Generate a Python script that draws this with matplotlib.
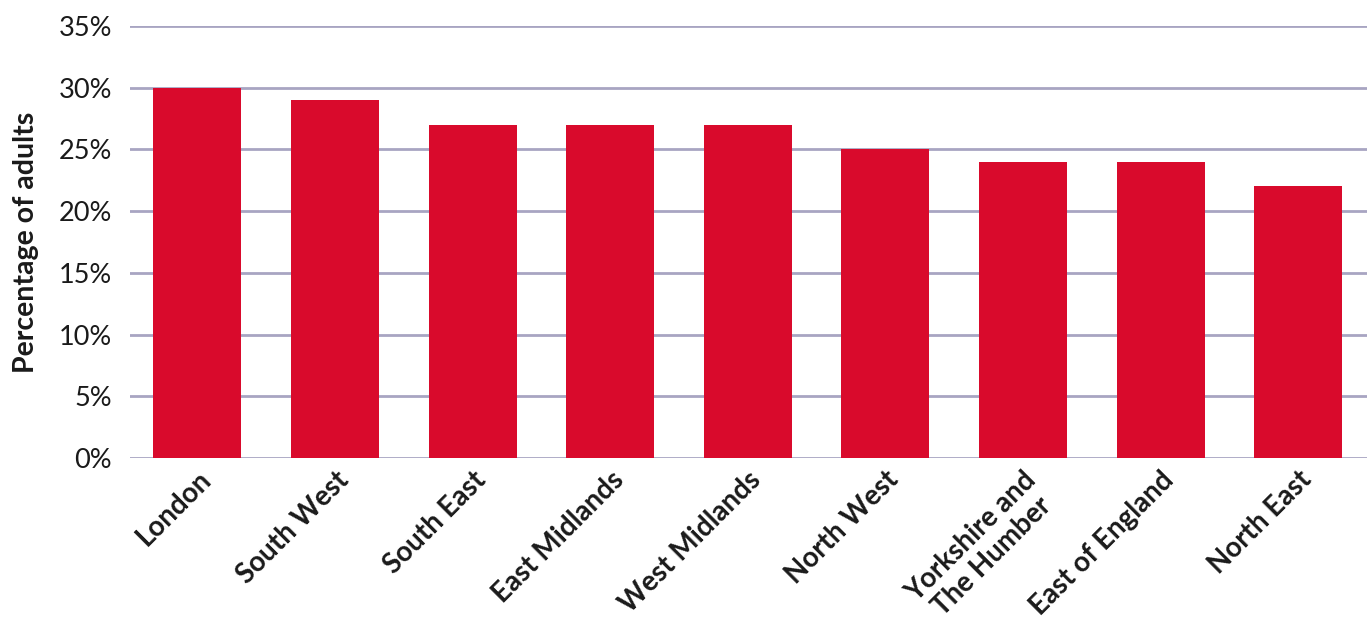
import matplotlib
matplotlib.use("Agg")
import matplotlib.pyplot as plt
from matplotlib.ticker import FuncFormatter

regions = ["London", "South West", "South East", "East Midlands", "West Midlands",
           "North West", "Yorkshire and\nThe Humber", "East of England", "North East"]
values = [30, 29, 27, 27, 27, 25, 24, 24, 22]
yticks = [0, 5, 10, 15, 20, 25, 30, 35]

plt.rcParams['font.family'] = ['Lato', 'DejaVu Sans']

fig = plt.figure(figsize=(13.7, 6.27), dpi=100)
ax = fig.add_axes([130/1370, 1-458/627, (1367-130)/1370, (458-26)/627])

x = list(range(len(regions)))
ax.bar(x, values, width=0.64, color='#d90a2c', zorder=3)

ax.set_ylim(0, 35)
ax.set_xlim(-0.49, len(regions) - 0.5)
ax.set_yticks(yticks)
ax.yaxis.set_major_formatter(FuncFormatter(lambda v, p: f"{int(v)}%"))
ax.yaxis.grid(True, color='#a8a5c2', linewidth=2, zorder=0)
ax.set_axisbelow(True)
for s in ax.spines.values():
    s.set_visible(False)
ax.tick_params(axis='y', length=0, pad=13, labelsize=19.5, labelcolor='#1a1a1a')
ax.tick_params(axis='x', length=0, pad=6)
ax.set_xticks(x)
ax.set_xticklabels(regions, rotation=45, ha='right', va='top', rotation_mode='anchor',
                   fontsize=20, fontweight='bold', color='#1a1a1a', multialignment='center',
                   linespacing=1.15)
ax.set_ylabel("Percentage of adults", fontsize=20.5, fontweight='bold', color='#1a1a1a', labelpad=14)

fig.savefig("out.png", dpi=100)
